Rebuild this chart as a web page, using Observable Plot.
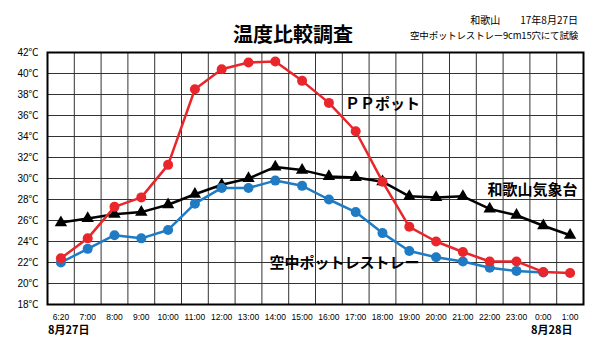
<!DOCTYPE html>
<html><head><meta charset="utf-8">
<script src="https://cdn.jsdelivr.net/npm/d3@7"></script>
<script src="https://cdn.jsdelivr.net/npm/@observablehq/plot@0.6"></script>
<style>
body{margin:0;background:#fff;font-family:"Noto Sans CJK JP","Liberation Sans",sans-serif;}
#wrap{position:relative;width:600px;height:348px;overflow:hidden;}
#chart{position:absolute;left:0;top:0;}
.t{position:absolute;white-space:nowrap;color:#000;line-height:1;}
</style></head><body>
<div id="wrap">
  <div id="chart"></div>
  <div class="t" style="left:233px;top:24px;font-size:20px;font-weight:bold;">温度比較調査</div>
  <div class="t" style="right:22px;top:15px;font-size:10px;">和歌山　　17年8月27日</div>
  <div class="t" style="right:22px;top:31px;font-size:9.5px;letter-spacing:-0.2px;">空中ポットレストレー9cm15穴にて試験</div>
  <div class="t" style="left:48px;top:324px;font-size:11px;font-weight:bold;">8月27日</div>
  <div class="t" style="left:531px;top:324px;font-size:11px;font-weight:bold;">8月28日</div>
</div>
<script>
const times = ["6:20","7:00","8:00","9:00","10:00","11:00","12:00","13:00","14:00","15:00","16:00","17:00","18:00","19:00","20:00","21:00","22:00","23:00","0:00","1:00"];
const ppPot   = [22.4,24.3,27.3,28.2,31.3,38.5,40.4,41.05,41.15,39.3,37.2,34.5,29.7,25.4,24.0,23.0,22.1,22.1,21.1,21.0];
const airTray = [22.0,23.3,24.6,24.3,25.1,27.6,29.1,29.1,29.8,29.3,28.0,26.8,24.8,23.1,22.5,22.1,21.5,21.2,21.05,null];
const station = [25.8,26.2,26.6,26.8,27.5,28.5,29.4,30.0,31.1,30.8,30.2,30.1,29.7,28.3,28.2,28.3,27.1,26.5,25.5,24.6];
const yTicks  = [18,20,22,24,26,28,30,32,34,36,38,40,42];
const names   = ["ＰＰポット","空中ポットレストレー","和歌山気象台"];

const idx = times.map((_, i) => i);
const bounds = idx.slice(1).map(i => i - 0.5);
const toRows = arr => arr.map((v, i) => ({i, v})).filter(d => d.v != null);
const red = toRows(ppPot), blue = toRows(airTray), black = toRows(station);
const RED = "#e8262b", BLUE = "#1f7bc4";
const lab = {fontSize: 15, fontWeight: "bold", fill: "#000", fontFamily: "'Noto Sans CJK JP'", text: d => d};

const chart = Plot.plot({
  width: 600, height: 348,
  marginLeft: 47, marginRight: 17, marginTop: 52, marginBottom: 44,
  style: {fontFamily: "'Liberation Sans', 'Noto Sans CJK JP', sans-serif", background: "transparent"},
  x: {domain: [-0.5, times.length - 0.5], axis: null},
  y: {domain: [18, 42], axis: null},
  marks: [
    Plot.gridY(yTicks, {stroke: "#333", strokeOpacity: 1, strokeWidth: 1}),
    Plot.ruleX(bounds, {stroke: "#333", strokeWidth: 1}),
    Plot.frame({stroke: "#000", strokeWidth: 2}),
    Plot.axisY(yTicks, {label: null, tickSize: 0, tickPadding: 9, fontSize: 10, tickFormat: d => d + "℃"}),
    Plot.axisX(idx, {label: null, tickSize: 0, tickPadding: 9, fontSize: 8.5, tickFormat: i => times[i]}),
    Plot.line(black, {x: "i", y: "v", stroke: "#000", strokeWidth: 2.5}),
    Plot.dot(black, {x: "i", y: "v", symbol: "triangle", r: 4.6, fill: "#000", stroke: "none"}),
    Plot.line(blue, {x: "i", y: "v", stroke: BLUE, strokeWidth: 2.5}),
    Plot.dot(blue, {x: "i", y: "v", r: 5, fill: BLUE, stroke: "none"}),
    Plot.line(red, {x: "i", y: "v", stroke: RED, strokeWidth: 2.5}),
    Plot.dot(red, {x: "i", y: "v", r: 5, fill: RED, stroke: "none"}),
    Plot.text([names[0]], {x: 12, y: 37.05, ...lab}),
    Plot.text([names[2]], {x: 17.6, y: 28.9, ...lab}),
    Plot.text([names[1]], {x: 10.58, y: 21.9, ...lab})
  ]
});
document.getElementById("chart").appendChild(chart);
</script>
</body></html>
